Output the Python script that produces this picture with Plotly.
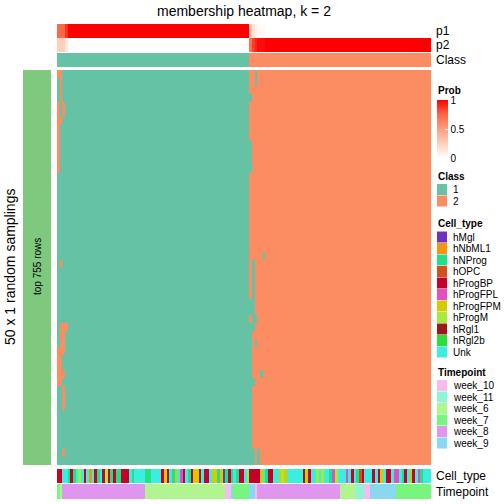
import plotly.graph_objects as go

W = H = 504
FONT = "Liberation Sans, Arial, sans-serif"

title_text = "membership heatmap, k = 2"
row_axis_title = "50 x 1 random samplings"
slice_label = "top 755 rows"
n_rows = 50

class_names = ["1", "2"]
class_colors = ["#66C2A5", "#FC8D62"]
n_class1 = 72
n_class2 = 68

# membership probabilities per column (value, run length)
p1_runs = [(0.75, 3), (0.88, 1), (1.0, 68), (0.3, 1), (0.15, 1), (0.08, 1), (0.03, 3), (0.0, 62)]
p2_runs = [(0.25, 3), (0.12, 1), (0.0, 68), (0.7, 1), (0.85, 1), (0.92, 1), (0.97, 3), (1.0, 62)]

# cells in the sampling matrix that disagree with the consensus class
# (row_start, row_end, col_start, col_end, class)
flipped_cells = [
    (0, 0, 0, 1, 2), (1, 3, 1, 1, 2), (4, 5, 0, 0, 2), (4, 5, 2, 2, 2), (6, 6, 0, 1, 2),
    (7, 12, 0, 0, 2), (24, 24, 1, 1, 2), (32, 32, 1, 3, 2), (33, 34, 1, 2, 2),
    (35, 35, 0, 2, 2), (36, 37, 0, 1, 2), (38, 38, 0, 2, 2), (39, 39, 0, 1, 2),
    (40, 42, 2, 2, 2), (48, 48, 2, 2, 2),
    (0, 1, 74, 74, 1), (3, 3, 72, 72, 1), (9, 12, 72, 72, 1), (23, 23, 77, 77, 1),
    (24, 28, 73, 73, 1), (29, 30, 72, 73, 1), (31, 31, 73, 74, 1), (32, 32, 72, 73, 1),
    (33, 34, 72, 72, 1), (34, 34, 74, 74, 1), (35, 37, 72, 72, 1), (38, 38, 72, 72, 1),
    (38, 38, 76, 76, 1), (39, 39, 72, 73, 1), (40, 47, 72, 72, 1), (48, 49, 72, 73, 1),
    (48, 49, 75, 75, 1),
]

cell_types = ["hMgl", "hNbML1", "hNProg", "hOPC", "hProgBP", "hProgFPL", "hProgFPM",
              "hProgM", "hRgl1", "hRgl2b", "Unk"]
cell_type_colors = ["#7031C1", "#F5960E", "#22DF88", "#D2501B", "#C6002C", "#E14FC2",
                    "#D4CC00", "#A5EB3A", "#981A1A", "#29E03A", "#3CEEDF"]
cell_type_runs = [
    ("hProgBP", 2), ("Unk", 2), ("hNProg", 1), ("hProgBP", 1), ("hNProg", 1), ("Unk", 1),
    ("hProgM", 1), ("Unk", 1), ("hProgBP", 1), ("Unk", 1), ("hNbML1", 1), ("Unk", 1),
    ("hProgBP", 1), ("hNProg", 1), ("Unk", 1), ("hProgBP", 1), ("hProgM", 1), ("hProgBP", 1),
    ("hNProg", 1), ("hProgBP", 1), ("hNProg", 2), ("hProgBP", 3), ("Unk", 1), ("hNProg", 1),
    ("Unk", 4), ("hNProg", 2), ("Unk", 4), ("hProgBP", 1), ("hProgFPM", 1), ("hProgBP", 1),
    ("Unk", 1), ("hNProg", 1), ("hProgFPM", 1), ("Unk", 1), ("hProgFPL", 1), ("hProgBP", 1),
    ("Unk", 1), ("hNProg", 1), ("hProgBP", 1), ("hProgFPM", 2), ("hProgBP", 1), ("Unk", 1),
    ("hProgBP", 2), ("Unk", 1), ("hProgFPM", 2), ("hNProg", 1), ("hProgFPM", 1), ("hMgl", 1),
    ("hNProg", 1), ("hProgBP", 1), ("hNProg", 1), ("Unk", 1), ("hNProg", 1), ("hProgBP", 2),
    ("Unk", 1), ("hProgM", 1),
    ("hProgBP", 4), ("hProgFPM", 1), ("Unk", 1), ("hNProg", 1), ("hProgBP", 2), ("Unk", 2),
    ("hProgFPM", 1), ("hProgM", 1), ("hProgFPM", 1), ("Unk", 6), ("hRgl1", 1), ("hProgFPM", 1),
    ("hProgBP", 1), ("Unk", 2), ("hProgM", 1), ("Unk", 1), ("hProgM", 1), ("Unk", 2),
    ("hNProg", 1), ("hProgFPL", 1), ("hProgM", 1), ("Unk", 3), ("hProgFPL", 1), ("Unk", 1),
    ("hProgBP", 1), ("Unk", 1), ("hNProg", 1), ("hOPC", 1), ("hProgBP", 1), ("Unk", 3),
    ("hProgBP", 1), ("Unk", 1), ("hProgBP", 1), ("hProgFPM", 1), ("Unk", 1), ("hProgBP", 2),
    ("Unk", 1), ("hProgFPL", 2), ("Unk", 1), ("hNProg", 1), ("hProgBP", 1), ("Unk", 1),
    ("hProgFPM", 1), ("hProgBP", 1), ("Unk", 1), ("hProgFPL", 1), ("hNProg", 1), ("Unk", 3),
]

timepoints = ["week_10", "week_11", "week_6", "week_7", "week_8", "week_9"]
timepoint_colors = ["#F8BBEE", "#8CF5D8", "#B0F590", "#78F57E", "#E096EE", "#88D8F2"]
timepoint_runs = [
    ("week_7", 1), ("week_6", 1), ("week_8", 31), ("week_6", 30), ("week_10", 2), ("week_9", 1),
    ("week_7", 6), ("week_9", 2), ("week_10", 1), ("week_8", 31), ("week_6", 6), ("week_11", 3),
    ("week_10", 2), ("week_9", 10), ("week_7", 13),
]

prob_colorscale = [[0, "#FFFFFF"], [0.25, "#FFCFBE"], [0.5, "#FF9E81"], [0.75, "#FF6846"], [1, "#FF0000"]]
slice_color = "#7FC97F"


def expand(runs):
    out = []
    for v, n in runs:
        out += [v] * n
    return out


def discrete_scale(colors):
    k = len(colors)
    cs = []
    for i, c in enumerate(colors):
        cs.append([i / k, c])
        cs.append([(i + 1) / k, c])
    return cs


def fx(px):
    return px / W


def fy(py):
    return 1 - py / H


n_cols = n_class1 + n_class2
col_class = [1] * n_class1 + [2] * n_class2
M = [list(col_class) for _ in range(n_rows)]
for r0, r1, c0, c1, v in flipped_cells:
    for r in range(r0, r1 + 1):
        for c in range(c0, c1 + 1):
            M[r][c] = v

p1 = expand(p1_runs)
p2 = expand(p2_runs)
ct_idx = [cell_types.index(v) for v in expand(cell_type_runs)]
tp_idx = [timepoints.index(v) for v in expand(timepoint_runs)]

X0, X1 = 57, 431
fig = go.Figure()

# p1 / p2
fig.add_trace(go.Heatmap(
    z=[p1, p2], x=list(range(n_cols)), y=["p1", "p2"], xaxis="x", yaxis="y",
    colorscale=prob_colorscale, zmin=0, zmax=1, hoverinfo="skip",
    colorbar=dict(x=fx(437), xanchor="left", xpad=0, ypad=0, y=fy(100), yanchor="top",
                  lenmode="pixels", len=58, thickness=11, outlinewidth=0,
                  tickvals=[0, 0.5, 1], ticktext=["0", "0.5", "1"], ticks="inside",
                  ticklen=3, tickcolor="white", tickfont=dict(size=10, family=FONT, color="black")),
))
# class annotation
fig.add_trace(go.Heatmap(
    z=[[c - 1 for c in col_class]], x=list(range(n_cols)), xaxis="x", yaxis="y2",
    colorscale=discrete_scale(class_colors), zmin=-0.5, zmax=1.5, showscale=False, hoverinfo="skip"))
# main matrix
fig.add_trace(go.Heatmap(
    z=[[v - 1 for v in row] for row in M], x=list(range(n_cols)), y=list(range(n_rows)),
    xaxis="x", yaxis="y3",
    colorscale=discrete_scale(class_colors), zmin=-0.5, zmax=1.5, showscale=False, hoverinfo="skip"))
# cell type
fig.add_trace(go.Heatmap(
    z=[ct_idx], x=list(range(n_cols)), xaxis="x", yaxis="y4",
    colorscale=discrete_scale(cell_type_colors), zmin=-0.5, zmax=len(cell_types) - 0.5,
    showscale=False, hoverinfo="skip"))
# timepoint
fig.add_trace(go.Heatmap(
    z=[tp_idx], x=list(range(n_cols)), xaxis="x", yaxis="y5",
    colorscale=discrete_scale(timepoint_colors), zmin=-0.5, zmax=len(timepoints) - 0.5,
    showscale=False, hoverinfo="skip"))
# row slice bar
fig.add_trace(go.Heatmap(
    z=[[0]], xaxis="x2", yaxis="y6", colorscale=[[0, slice_color], [1, slice_color]],
    showscale=False, hoverinfo="skip"))

hidden = dict(showticklabels=False, showgrid=False, zeroline=False, ticks="", showline=False)
fig.update_layout(
    width=W, height=H, margin=dict(l=0, r=0, t=0, b=0),
    paper_bgcolor="white", plot_bgcolor="white", showlegend=False,
    font=dict(family=FONT, color="black"),
    xaxis=dict(domain=[fx(X0), fx(X1)], range=[-0.5, n_cols - 0.5], anchor="y3", **hidden),
    xaxis2=dict(domain=[fx(23), fx(51)], anchor="y6", **hidden),
    yaxis=dict(domain=[fy(52), fy(24)], range=[1.5, -0.5], anchor="x", **hidden),
    yaxis2=dict(domain=[fy(67), fy(53)], anchor="x", **hidden),
    yaxis3=dict(domain=[fy(465), fy(70)], range=[n_rows - 0.5, -0.5], anchor="x", **hidden),
    yaxis4=dict(domain=[fy(483), fy(469)], anchor="x", **hidden),
    yaxis5=dict(domain=[fy(499), fy(484)], anchor="x", **hidden),
    yaxis6=dict(domain=[fy(465), fy(70)], anchor="x2", **hidden),
)

ann = []


def text(x, y, s, size=12, bold=False, xanchor="left", angle=0):
    ann.append(dict(x=fx(x), y=fy(y), xref="paper", yref="paper", text=("<b>%s</b>" % s) if bold else s,
                    showarrow=False, xanchor=xanchor, yanchor="middle", textangle=angle,
                    font=dict(size=size, family=FONT, color="black")))


text((X0 + X1) / 2, 11, title_text, size=14, xanchor="center")
text(434, 31, "p1")
text(434, 45, "p2")
text(434, 60, "Class")
text(434, 476, "Cell_type")
text(434, 492, "Timepoint")
text(37, 267, slice_label, size=10, xanchor="center", angle=-90)
text(10, 267, row_axis_title, size=14, xanchor="center", angle=-90)

# legends
LX = 437
text(LX - 1, 90, "Prob", size=10, bold=True)
shapes = []


def legend_block(title, y_title, names, colors):
    text(LX - 1, y_title, title, size=10, bold=True)
    for i, (n, c) in enumerate(zip(names, colors)):
        yc = y_title + 13.5 + i * 11.5
        shapes.append(dict(type="rect", xref="paper", yref="paper", x0=fx(LX), x1=fx(LX + 10),
                           y0=fy(yc + 5.5), y1=fy(yc - 5.5), fillcolor=c, line=dict(width=0)))
        text(LX + 14, yc, n, size=10)


legend_block("Class", 176, class_names, class_colors)
legend_block("Cell_type", 223.5, cell_types, cell_type_colors)
legend_block("Timepoint", 372, timepoints, timepoint_colors)

fig.update_layout(annotations=ann, shapes=shapes)
fig.write_html("out.html", config={"displayModeBar": False, "staticPlot": True},
               post_script="document.body.style.margin='0';document.body.style.padding='0';")
